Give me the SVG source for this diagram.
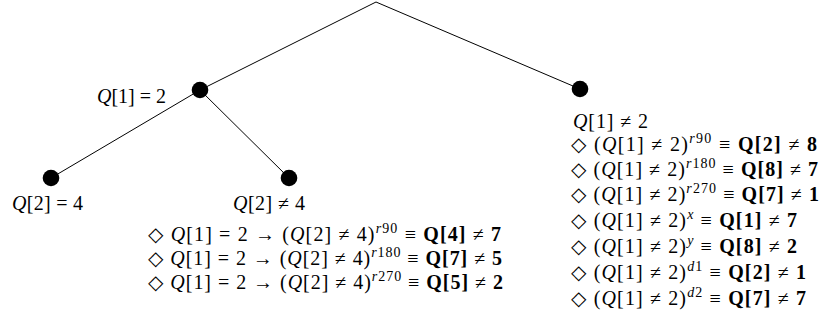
<svg xmlns="http://www.w3.org/2000/svg" width="823" height="325" viewBox="0 0 823 325">
<style>
.bg{fill:#fff}
.edge{stroke:#000;stroke-width:1;fill:none}
.dot{fill:#000}
.t{font-family:"Liberation Serif","DejaVu Serif",serif;font-size:20px;fill:#000}
.i{font-style:italic}
.b{font-weight:bold}
.s{font-size:14px}
</style>
<rect class="bg" x="0" y="0" width="823" height="325"/>
<g id="connectors">
<line class="edge" x1="376" y1="2" x2="200" y2="90"/>
<line class="edge" x1="376" y1="2" x2="580" y2="89"/>
<line class="edge" x1="200" y1="90" x2="51" y2="178"/>
<line class="edge" x1="200" y1="90" x2="289" y2="178"/>
</g>
<g id="node-q1-eq-2">
<circle class="dot" cx="200" cy="90" r="8.3"/>
<text class="t" x="97" y="103" textLength="69" lengthAdjust="spacing"><tspan class="i">Q</tspan>[1] = 2</text>
</g>
<g id="node-q1-ne-2">
<circle class="dot" cx="580" cy="89" r="8.3"/>
<text class="t" x="573" y="128" textLength="75" lengthAdjust="spacing"><tspan class="i">Q</tspan>[1] ≠ 2</text>
<text class="t" x="571" y="151" textLength="246" lengthAdjust="spacing">◇ (<tspan class="i">Q</tspan>[1] ≠ 2)<tspan class="s" dy="-8"><tspan class="i">r</tspan>90</tspan><tspan dy="8"> ≡ </tspan><tspan class="b">Q[2]</tspan> ≠ <tspan class="b">8</tspan></text>
<text class="t" x="571" y="176" textLength="247" lengthAdjust="spacing">◇ (<tspan class="i">Q</tspan>[1] ≠ 2)<tspan class="s" dy="-8"><tspan class="i">r</tspan>180</tspan><tspan dy="8"> ≡ </tspan><tspan class="b">Q[8]</tspan> ≠ <tspan class="b">7</tspan></text>
<text class="t" x="571" y="201" textLength="248" lengthAdjust="spacing">◇ (<tspan class="i">Q</tspan>[1] ≠ 2)<tspan class="s" dy="-8"><tspan class="i">r</tspan>270</tspan><tspan dy="8"> ≡ </tspan><tspan class="b">Q[7]</tspan> ≠ <tspan class="b">1</tspan></text>
<text class="t" x="571" y="227" textLength="226" lengthAdjust="spacing">◇ (<tspan class="i">Q</tspan>[1] ≠ 2)<tspan class="s i" dy="-8">x</tspan><tspan dy="8"> ≡ </tspan><tspan class="b">Q[1]</tspan> ≠ <tspan class="b">7</tspan></text>
<text class="t" x="571" y="253" textLength="226" lengthAdjust="spacing">◇ (<tspan class="i">Q</tspan>[1] ≠ 2)<tspan class="s i" dy="-8">y</tspan><tspan dy="8"> ≡ </tspan><tspan class="b">Q[8]</tspan> ≠ <tspan class="b">2</tspan></text>
<text class="t" x="571" y="279" textLength="235" lengthAdjust="spacing">◇ (<tspan class="i">Q</tspan>[1] ≠ 2)<tspan class="s" dy="-8"><tspan class="i">d</tspan>1</tspan><tspan dy="8"> ≡ </tspan><tspan class="b">Q[2]</tspan> ≠ <tspan class="b">1</tspan></text>
<text class="t" x="571" y="305" textLength="235" lengthAdjust="spacing">◇ (<tspan class="i">Q</tspan>[1] ≠ 2)<tspan class="s" dy="-8"><tspan class="i">d</tspan>2</tspan><tspan dy="8"> ≡ </tspan><tspan class="b">Q[7]</tspan> ≠ <tspan class="b">7</tspan></text>
</g>
<g id="node-q2-eq-4">
<circle class="dot" cx="51" cy="178" r="8.3"/>
<text class="t" x="12" y="210" textLength="71" lengthAdjust="spacing"><tspan class="i">Q</tspan>[2] = 4</text>
</g>
<g id="node-q2-ne-4">
<circle class="dot" cx="289" cy="178" r="8.3"/>
<text class="t" x="233" y="210" textLength="72" lengthAdjust="spacing"><tspan class="i">Q</tspan>[2] ≠ 4</text>
<text class="t" x="148" y="241" textLength="353" lengthAdjust="spacing">◇ <tspan class="i">Q</tspan>[1] = 2 → (<tspan class="i">Q</tspan>[2] ≠ 4)<tspan class="s" dy="-8"><tspan class="i">r</tspan>90</tspan><tspan dy="8"> ≡ </tspan><tspan class="b">Q[4]</tspan> ≠ <tspan class="b">7</tspan></text>
<text class="t" x="148" y="265" textLength="354" lengthAdjust="spacing">◇ <tspan class="i">Q</tspan>[1] = 2 → (<tspan class="i">Q</tspan>[2] ≠ 4)<tspan class="s" dy="-8"><tspan class="i">r</tspan>180</tspan><tspan dy="8"> ≡ </tspan><tspan class="b">Q[7]</tspan> ≠ <tspan class="b">5</tspan></text>
<text class="t" x="148" y="289" textLength="355" lengthAdjust="spacing">◇ <tspan class="i">Q</tspan>[1] = 2 → (<tspan class="i">Q</tspan>[2] ≠ 4)<tspan class="s" dy="-8"><tspan class="i">r</tspan>270</tspan><tspan dy="8"> ≡ </tspan><tspan class="b">Q[5]</tspan> ≠ <tspan class="b">2</tspan></text>
</g>
</svg>
